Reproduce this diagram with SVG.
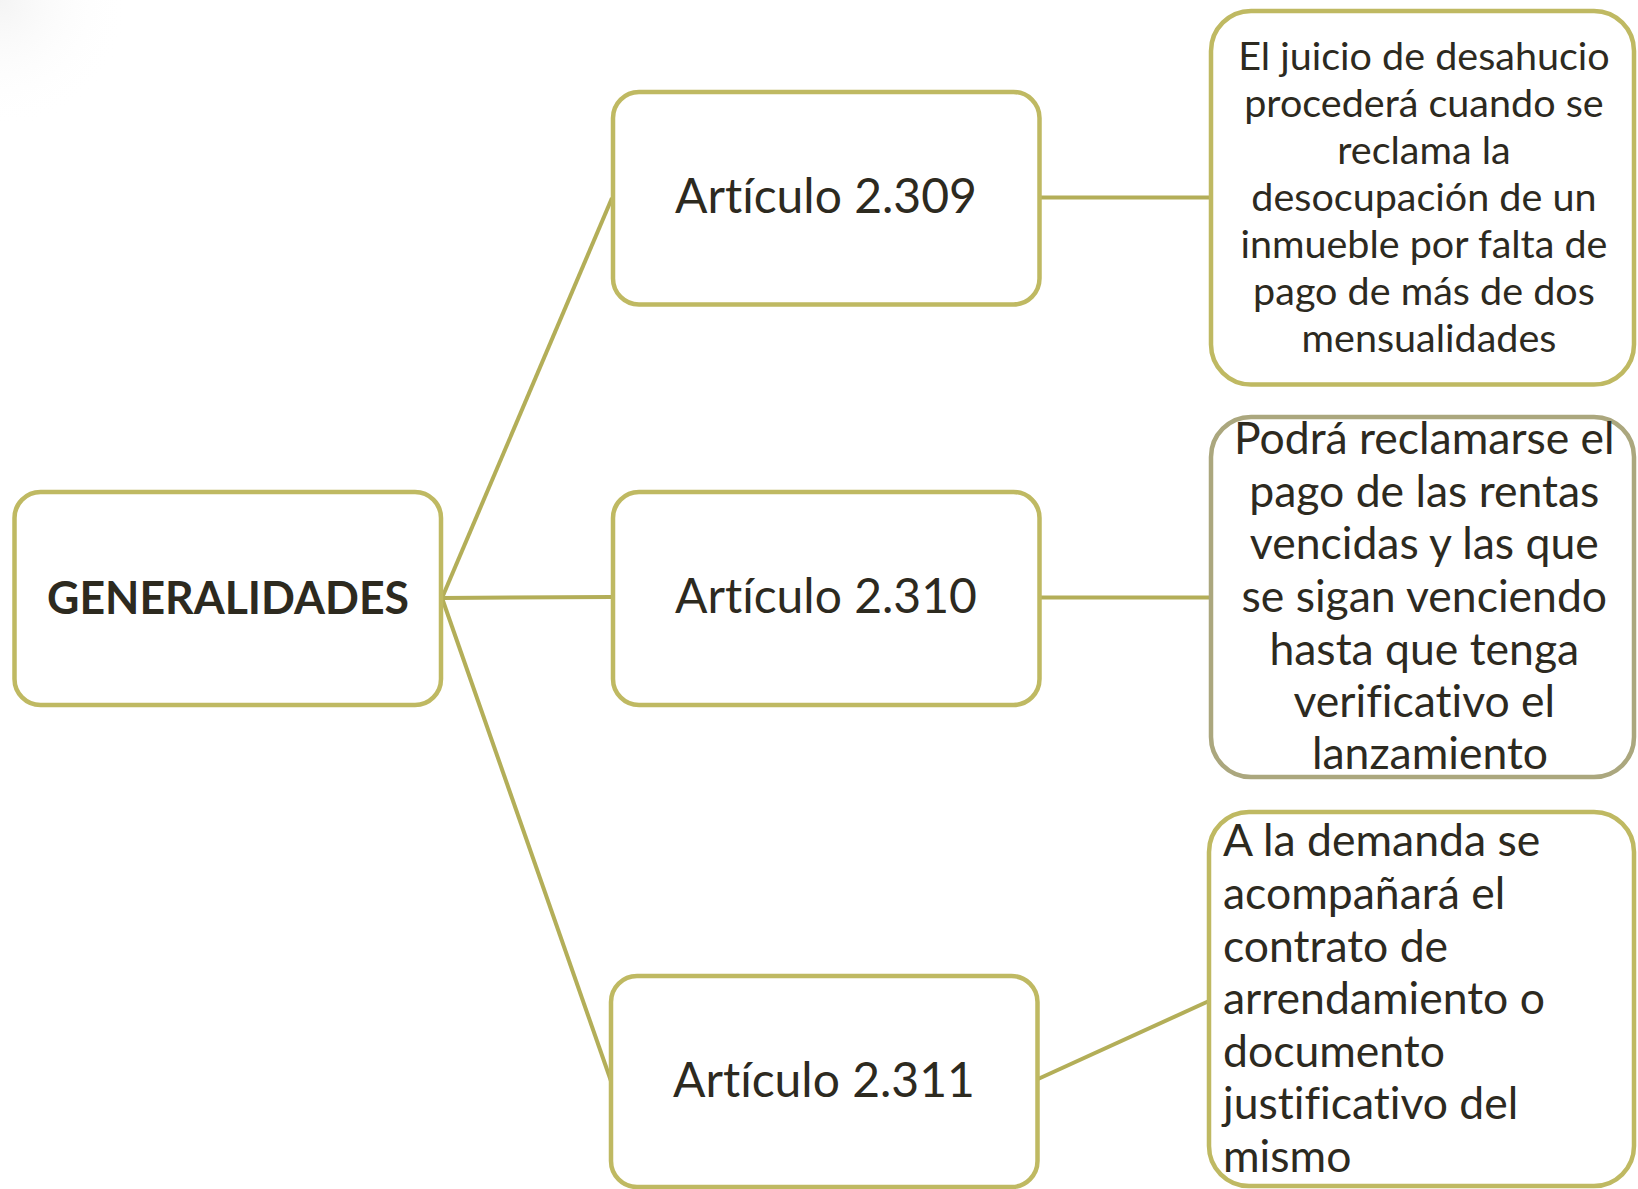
<svg xmlns="http://www.w3.org/2000/svg" width="1638" height="1189" viewBox="0 0 1638 1189">
  <defs>
    <radialGradient id="bgTL" cx="0" cy="0" r="130" gradientUnits="userSpaceOnUse">
      <stop offset="0" stop-color="#f4f4f4"/>
      <stop offset="1" stop-color="#ffffff" stop-opacity="0"/>
    </radialGradient>
    <style>
      .box { fill: #ffffff; stroke: #BFB962; stroke-width: 4.5; }
      .box2 { fill: #ffffff; stroke: #ABA77E; stroke-width: 4.5; }
      .conn { stroke: #B3AE58; stroke-width: 4; fill: none; }
      .t { font-family: Lato, "Open Sans", sans-serif; fill: #2D2A1F; font-variant-ligatures: none; }
      .art { font-size: 48px; text-anchor: middle; }
      .main { font-size: 46px; font-weight: bold; text-anchor: middle; }
      .d1 { font-size: 39.5px; text-anchor: middle; }
      .d2 { font-size: 44.5px; text-anchor: middle; }
      .d3 { font-size: 44.5px; }
    </style>
  </defs>
  <rect x="0" y="0" width="1638" height="1189" fill="#ffffff"/>
  <rect x="0" y="0" width="160" height="160" fill="url(#bgTL)"/>

  <g id="connectors">
    <line class="conn" x1="442" y1="598" x2="612" y2="198"/>
    <line class="conn" x1="442" y1="598" x2="612" y2="597"/>
    <line class="conn" x1="442" y1="598" x2="611" y2="1081"/>
    <line class="conn" x1="1040" y1="197.5" x2="1211" y2="197.5"/>
    <line class="conn" x1="1040" y1="597.5" x2="1211" y2="597.5"/>
    <line class="conn" x1="1038" y1="1079" x2="1209" y2="1001"/>
  </g>

  <g id="node-generalidades">
    <rect class="box" x="14.5" y="492" width="426.5" height="213" rx="26"/>
    <text class="t main" x="228" y="614" textLength="362" lengthAdjust="spacingAndGlyphs">GENERALIDADES</text>
  </g>

  <g id="node-art2309">
    <rect class="box" x="613" y="92" width="426.5" height="212.5" rx="26"/>
    <text class="t art" x="826" y="213">Artículo 2.309</text>
  </g>

  <g id="node-art2310">
    <rect class="box" x="613" y="492" width="426.5" height="213" rx="26"/>
    <text class="t art" x="826" y="613">Artículo 2.310</text>
  </g>

  <g id="node-art2311">
    <rect class="box" x="611" y="976" width="426.5" height="211" rx="26"/>
    <text class="t art" x="824" y="1097">Artículo 2.311</text>
  </g>

  <g id="node-desc2309">
    <rect class="box" x="1211" y="11" width="423" height="373.5" rx="40"/>
    <text class="t d1" x="1429">
      <tspan x="1429" y="70">El juicio de desahucio</tspan>
      <tspan x="1429" y="117">procederá cuando se</tspan>
      <tspan x="1429" y="164">reclama la</tspan>
      <tspan x="1429" y="211">desocupación de un</tspan>
      <tspan x="1429" y="258">inmueble por falta de</tspan>
      <tspan x="1429" y="305">pago de más de dos</tspan>
      <tspan x="1429" y="352">mensualidades</tspan>
    </text>
  </g>

  <g id="node-desc2310">
    <rect class="box2" x="1211" y="417" width="423" height="360" rx="40"/>
    <text class="t d2" x="1430">
      <tspan x="1430" y="454">Podrá reclamarse el</tspan>
      <tspan x="1430" y="507">pago de las rentas</tspan>
      <tspan x="1430" y="559">vencidas y las que</tspan>
      <tspan x="1430" y="612">se sigan venciendo</tspan>
      <tspan x="1430" y="665">hasta que tenga</tspan>
      <tspan x="1430" y="717">verificativo el</tspan>
      <tspan x="1430" y="769">lanzamiento</tspan>
    </text>
  </g>

  <g id="node-desc2311">
    <rect class="box" x="1209" y="812" width="425" height="374" rx="40"/>
    <text class="t d3" x="1223">
      <tspan x="1223" y="856">A la demanda se</tspan>
      <tspan x="1223" y="909">acompañará el</tspan>
      <tspan x="1223" y="962">contrato de</tspan>
      <tspan x="1223" y="1014">arrendamiento o</tspan>
      <tspan x="1223" y="1067">documento</tspan>
      <tspan x="1223" y="1119">justificativo del</tspan>
      <tspan x="1223" y="1172">mismo</tspan>
    </text>
  </g>
</svg>
